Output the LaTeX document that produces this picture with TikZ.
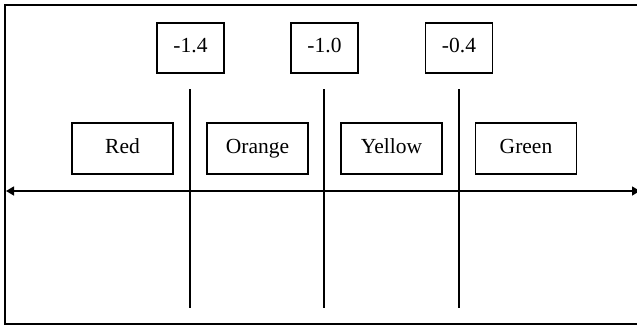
\documentclass[tikz,border=0pt]{standalone}
\usepackage{fontspec}
\setmainfont{Liberation Serif}
\usetikzlibrary{arrows.meta}
\begin{document}
\begin{tikzpicture}[x=1pt,y=-1pt,
  box/.style={draw,line width=1.2pt,minimum width=101pt,minimum height=51pt,inner sep=0pt,text height=14pt,text depth=5pt,font=\fontsize{21.5}{21.5}\selectfont},
  valbox/.style={box,minimum width=67pt,minimum height=50pt},
  divider/.style={line width=1.2pt},
  axis/.style={line width=1.4pt,{Triangle[length=8pt,width=9pt]}-{Triangle[length=8pt,width=9pt]}}]
\useasboundingbox (0,0) rectangle (637,325);
\draw[line width=1.4pt] (5,5) rectangle (645,324);
\node[valbox] (v1) at (190.5,48) {-1.4};
\node[valbox] (v2) at (324.5,48) {-1.0};
\node[valbox] (v3) at (459,48) {-0.4};
\node[box] (red) at (122.5,148.5) {Red};
\node[box] (orange) at (257.5,148.5) {Orange};
\node[box] (yellow) at (391.5,148.5) {Yellow};
\node[box] (green) at (526,148.5) {Green};
\coordinate (d1t) at (190,89); \coordinate (d1b) at (190,308);
\coordinate (d2t) at (324,89); \coordinate (d2b) at (324,308);
\coordinate (d3t) at (459,89); \coordinate (d3b) at (459,308);
\draw[divider] (d1t) -- (d1b);
\draw[divider] (d2t) -- (d2b);
\draw[divider] (d3t) -- (d3b);
\coordinate (al) at (6,191); \coordinate (ar) at (640,191);
\draw[axis] (al) -- (ar);
\end{tikzpicture}
\end{document}
